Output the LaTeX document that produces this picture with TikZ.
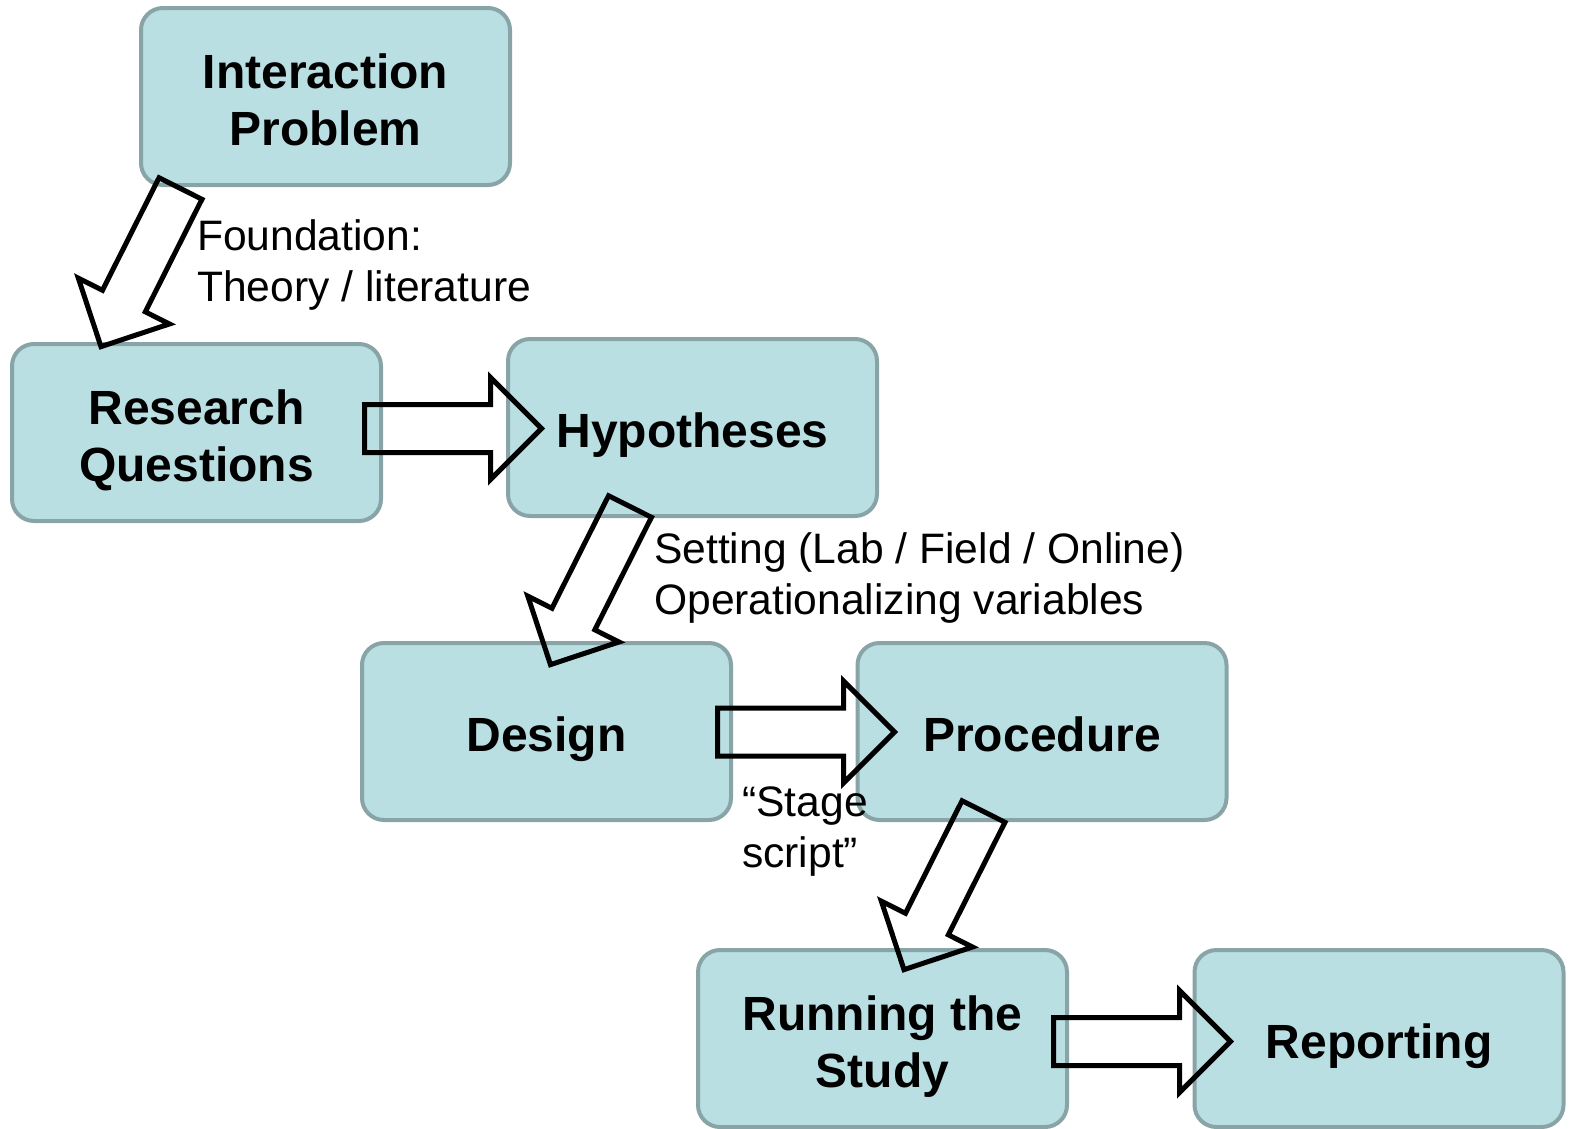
\documentclass[tikz,border=0pt]{standalone}
\usepackage{fontspec}
\setmainfont{Liberation Sans}
\definecolor{boxfill}{HTML}{B9DFE3}
\definecolor{boxline}{HTML}{88A4A7}
\begin{document}
\begin{tikzpicture}[x=1pt,y=-1pt,
  box/.style={draw=boxline, line width=4pt, fill=boxfill, rounded corners=22pt,
    minimum width=369pt, minimum height=177pt, inner sep=0pt,
    text height=40pt, text depth=0pt,
    font=\fontsize{48}{57}\selectfont\bfseries},
  box2/.style={box, text height=97pt},
  lbl/.style={anchor=base west, inner sep=0pt, font=\fontsize{42.6}{51}\selectfont},
  blockarr/.pic={\draw[line width=5pt, line join=miter]
    (0,-24) -- (126,-24) -- (126,-51) -- (177,0) -- (126,51) -- (126,24) -- (0,24) -- cycle;}
]
\useasboundingbox (0,0) rectangle (1569,1128);
\node[box2] (ip) at (325.5,96.5) {\begin{tabular}[b]{@{}c@{}}Interaction\\Problem\end{tabular}};
\node[box2] (rq) at (196.5,432.5) {\begin{tabular}[b]{@{}c@{}}Research\\Questions\end{tabular}};
\node[box] (hy) at (692.5,427.5) {Hypotheses};
\node[box] (de) at (546.5,731.5) {Design};
\node[box] (pr) at (1042,731.5) {Procedure};
\node[box2] (rs) at (882.5,1038.5) {\begin{tabular}[b]{@{}c@{}}Running the\\Study\end{tabular}};
\node[box] (re) at (1379,1038.5) {Reporting};
% block arrows
\coordinate (d1) at (180.5,188.5);
\coordinate (d2) at (630,506.5);
\coordinate (d3) at (983.5,811.5);
\coordinate (h1) at (364.5,428.5);
\coordinate (h2) at (717.5,732);
\coordinate (h3) at (1053.5,1041.5);
\pic[rotate=243.3] at (d1) {blockarr};
\pic[rotate=243.3] at (d2) {blockarr};
\pic[rotate=243.3] at (d3) {blockarr};
\pic at (h1) {blockarr};
\pic at (h2) {blockarr};
\pic at (h3) {blockarr};
% labels
\node[lbl] (l1) at (197,250) {\begin{tabular}[t]{@{}l@{}}Foundation:\\Theory / literature\end{tabular}};
\node[lbl] (l2) at (654,563) {\begin{tabular}[t]{@{}l@{}}Setting (Lab / Field / Online)\\Operationalizing variables\end{tabular}};
\node[lbl] (l3) at (742,816) {\begin{tabular}[t]{@{}l@{}}“Stage\\script”\end{tabular}};
\end{tikzpicture}
\end{document}
